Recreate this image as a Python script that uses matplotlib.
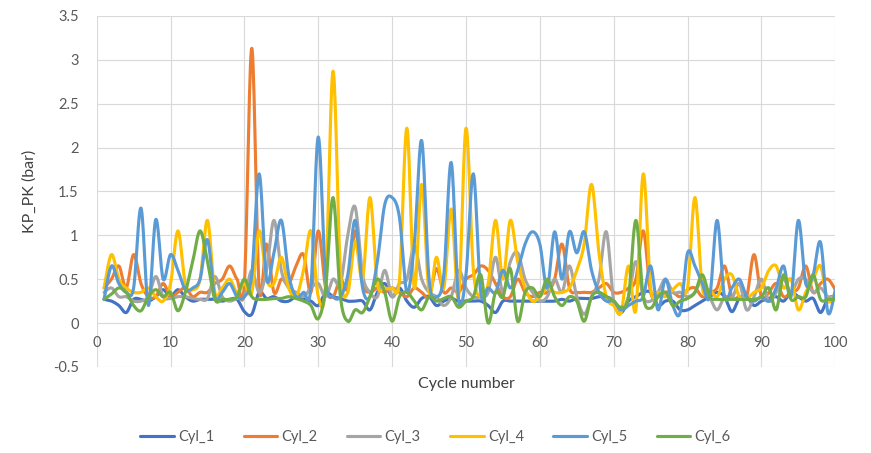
import numpy as np
import matplotlib
matplotlib.use("Agg")
import matplotlib.pyplot as plt

plt.rcParams['font.family'] = ['Lato', 'DejaVu Sans']

cycles = np.arange(1, 101)
series_names = ['Cyl_1', 'Cyl_2', 'Cyl_3', 'Cyl_4', 'Cyl_5', 'Cyl_6']

cyl_1 = [0.27, 0.25, 0.2, 0.12, 0.27, 0.27, 0.25, 0.3, 0.38, 0.3, 0.38, 0.3,
         0.25, 0.27, 0.27, 0.27, 0.25, 0.27, 0.27, 0.13, 0.1, 0.35, 0.28, 0.3,
         0.25, 0.25, 0.3, 0.28, 0.25, 0.2, 0.35, 0.3, 0.28, 0.25, 0.25, 0.25,
         0.15, 0.35, 0.45, 0.3, 0.4, 0.25, 0.18, 0.28, 0.3, 0.2, 0.25, 0.28,
         0.25, 0.25, 0.25, 0.25, 0.2, 0.12, 0.25, 0.25, 0.25, 0.25, 0.25, 0.25,
         0.25, 0.25, 0.27, 0.25, 0.28, 0.28, 0.28, 0.3, 0.3, 0.25, 0.12, 0.25,
         0.3, 0.35, 0.35, 0.2, 0.25, 0.25, 0.15, 0.15, 0.2, 0.25, 0.3, 0.35,
         0.3, 0.13, 0.28, 0.3, 0.2, 0.25, 0.28, 0.3, 0.25, 0.35, 0.3, 0.25,
         0.28, 0.12, 0.28, 0.3]
cyl_2 = [0.4, 0.5, 0.65, 0.4, 0.78, 0.45, 0.3, 0.3, 0.45, 0.3, 0.35, 0.4,
         0.3, 0.35, 0.35, 0.45, 0.5, 0.65, 0.5, 0.45, 3.13, 0.4, 0.9, 0.35,
         0.5, 0.45, 0.65, 0.78, 0.35, 1.05, 0.4, 0.3, 0.5, 0.4, 1.05, 0.45,
         0.35, 0.4, 0.35, 0.4, 0.35, 0.3, 0.4, 0.35, 0.3, 0.62, 0.35, 0.4,
         0.35, 0.5, 0.55, 0.65, 0.6, 0.45, 0.3, 0.3, 0.5, 0.35, 0.3, 0.35,
         0.35, 0.5, 0.9, 0.4, 0.35, 0.35, 0.35, 0.4, 0.45, 0.35, 0.35, 0.4,
         0.5, 1.05, 0.35, 0.3, 0.35, 0.35, 0.3, 0.38, 0.4, 0.3, 0.35, 0.4,
         0.65, 0.3, 0.3, 0.3, 0.78, 0.3, 0.35, 0.45, 0.3, 0.35, 0.4, 0.65,
         0.35, 0.45, 0.5, 0.38]
cyl_3 = [0.35, 0.4, 0.3, 0.3, 0.25, 0.25, 0.3, 0.53, 0.3, 0.28, 0.3, 0.3,
         0.28, 0.27, 0.28, 0.53, 0.3, 0.25, 0.28, 0.3, 0.6, 0.35, 0.6, 1.17,
         0.6, 0.4, 0.35, 0.3, 0.4, 0.45, 0.3, 0.5, 0.45, 1.0, 1.32, 0.55,
         0.35, 0.3, 0.6, 0.3, 0.45, 0.5, 0.88, 0.5, 0.35, 0.3, 0.2, 0.3,
         0.6, 0.4, 0.3, 0.3, 0.35, 0.75, 0.35, 0.7, 0.8, 0.5, 0.35, 0.25,
         0.3, 0.5, 0.35, 0.65, 0.3, 0.1, 0.3, 0.5, 1.04, 0.25, 0.15, 0.3,
         0.7, 0.3, 0.25, 0.35, 0.5, 0.35, 0.35, 0.3, 0.35, 0.5, 0.3, 0.15,
         0.3, 0.28, 0.45, 0.15, 0.3, 0.5, 0.25, 0.35, 0.5, 0.35, 0.5, 0.5,
         0.35, 0.4, 0.3, 0.3]
cyl_4 = [0.4, 0.78, 0.5, 0.4, 0.35, 0.35, 0.4, 0.3, 0.25, 0.45, 1.05, 0.45,
         0.38, 0.5, 1.17, 0.35, 0.4, 0.5, 0.35, 0.45, 0.35, 1.05, 0.5, 0.45,
         0.75, 0.4, 0.3, 0.6, 1.05, 0.3, 0.45, 2.87, 0.6, 0.35, 0.93, 0.5,
         1.43, 0.45, 0.4, 0.4, 0.5, 2.22, 0.4, 1.58, 0.35, 0.75, 0.4, 1.3,
         0.3, 2.22, 0.6, 0.3, 0.45, 1.17, 0.5, 1.17, 0.7, 0.4, 0.25, 0.3,
         0.4, 0.35, 0.35, 0.4, 0.6, 0.9, 1.58, 0.8, 0.3, 0.2, 0.12, 0.65,
         0.15, 1.7, 0.4, 0.35, 0.3, 0.38, 0.45, 0.4, 1.43, 0.4, 0.38, 0.3,
         0.5, 0.55, 0.3, 0.28, 0.35, 0.4, 0.6, 0.65, 0.4, 0.5, 0.15, 0.35,
         0.5, 0.65, 0.25, 0.35]
cyl_5 = [0.27, 0.65, 0.45, 0.35, 0.4, 1.31, 0.2, 1.18, 0.5, 0.78, 0.6, 0.38,
         0.4, 0.5, 0.95, 0.3, 0.35, 0.45, 0.3, 0.3, 0.55, 1.7, 0.5, 0.8,
         1.17, 0.55, 0.3, 0.35, 0.4, 2.12, 0.5, 0.3, 0.3, 0.55, 1.17, 0.4,
         0.3, 0.7, 1.35, 1.43, 1.2, 0.35, 0.9, 2.08, 0.5, 0.3, 0.55, 1.83,
         0.27, 0.55, 1.7, 0.35, 0.4, 0.35, 0.6, 0.4, 0.6, 0.9, 1.04, 0.9,
         0.4, 1.04, 0.5, 1.04, 0.8, 1.04, 0.6, 0.35, 0.25, 0.25, 0.15, 0.2,
         0.25, 0.3, 0.65, 0.15, 0.5, 0.2, 0.12, 0.8, 0.65, 0.45, 0.3, 1.17,
         0.3, 0.4, 0.5, 0.3, 0.25, 0.3, 0.25, 0.4, 0.65, 0.3, 1.17, 0.45,
         0.55, 0.92, 0.12, 0.38]
cyl_6 = [0.27, 0.33, 0.4, 0.35, 0.2, 0.14, 0.3, 0.38, 0.3, 0.35, 0.14, 0.35,
         0.7, 1.05, 0.7, 0.27, 0.27, 0.27, 0.3, 0.5, 0.3, 0.27, 0.27, 0.28,
         0.28, 0.3, 0.28, 0.25, 0.2, 0.05, 0.4, 1.43, 0.3, 0.02, 0.15, 0.12,
         0.3, 0.5, 0.35, 0.02, 0.3, 0.35, 0.25, 0.15, 0.3, 0.25, 0.28, 0.3,
         0.18, 0.25, 0.3, 0.55, 0.0, 0.35, 0.3, 0.62, 0.02, 0.35, 0.4, 0.3,
         0.5, 0.3, 0.2, 0.3, 0.25, 0.02, 0.3, 0.35, 0.3, 0.25, 0.18, 0.3,
         1.17, 0.3, 0.17, 0.3, 0.35, 0.2, 0.25, 0.28, 0.35, 0.55, 0.3, 0.27,
         0.27, 0.27, 0.27, 0.27, 0.27, 0.3, 0.4, 0.15, 0.55, 0.27, 0.3, 0.3,
         0.55, 0.27, 0.27, 0.27]

colors = ['#4472C4', '#ED7D31', '#A5A5A5', '#FFC000', '#5B9BD5', '#70AD47']


def smooth(x, y, n=16):
    # Excel-style smoothed line: cubic Bezier through the points
    x = np.asarray(x, float)
    y = np.asarray(y, float)
    px = np.concatenate([[x[0]], x, [x[-1]]])
    py = np.concatenate([[y[0]], y, [y[-1]]])
    t = np.linspace(0, 1, n, endpoint=False)[:, None]
    xs, ys = [], []
    for arr, out in ((px, xs), (py, ys)):
        p0, p1, p2, p3 = arr[:-3], arr[1:-2], arr[2:-1], arr[3:]
        c1 = p1 + (p2 - p0) / 6
        c2 = p2 - (p3 - p1) / 6
        seg = ((1 - t) ** 3 * p1 + 3 * (1 - t) ** 2 * t * c1
               + 3 * (1 - t) * t ** 2 * c2 + t ** 3 * p2)
        out.append(np.concatenate([seg.T.ravel(), [arr[-2]]]))
    return xs[0], ys[0]


fig = plt.figure(figsize=(8.71, 4.53), dpi=100)
ax = fig.add_axes([0.111, 0.190, 0.848, 0.775])

for name, vals, col in zip(series_names, [cyl_1, cyl_2, cyl_3, cyl_4, cyl_5, cyl_6], colors):
    sx, sy = smooth(cycles, vals)
    ax.plot(sx, sy, color=col, lw=2.25, label=name, solid_capstyle='round')

ax.set_xlim(0, 100)
ax.set_ylim(-0.5, 3.5)
ax.set_xticks(np.arange(0, 101, 10))
ax.set_yticks(np.arange(-0.5, 3.51, 0.5))
ax.set_yticklabels(['{:g}'.format(v) for v in np.arange(-0.5, 3.51, 0.5)])
ax.grid(True, color='#d9d9d9', lw=0.8)
ax.set_axisbelow(True)
for s in ax.spines.values():
    s.set_visible(False)
ax.spines['bottom'].set_position(('data', 0))
ax.tick_params(axis='both', length=0, labelsize=10.5, labelcolor='#595959')
ax.tick_params(axis='x', pad=9)
ax.tick_params(axis='y', pad=13)

ax.set_xlabel('Cycle number', fontsize=11.5, color='#404040')
ax.xaxis.set_label_coords(0.5, -0.028)
ax.set_ylabel('KP_PK (bar)', fontsize=11.5, color='#404040')
ax.yaxis.set_label_coords(-0.081, 0.5)

fig.legend(loc='center', bbox_to_anchor=(0.5, 0.035), ncol=6, frameon=False,
           fontsize=10.5, handlelength=2.3, handletextpad=0.3, columnspacing=2.0,
           labelcolor='#595959')

fig.savefig('out.png', dpi=100)
